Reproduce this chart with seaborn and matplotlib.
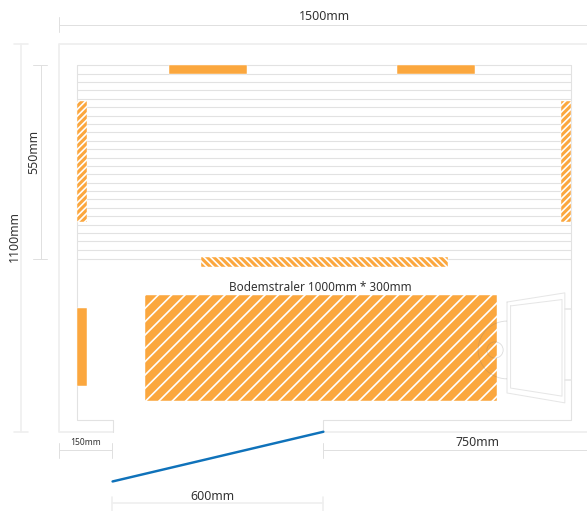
import matplotlib
matplotlib.use("Agg")
import matplotlib.pyplot as plt
from matplotlib.patches import Circle, Arc
import pandas as pd
import seaborn as sns

sns.set_theme(style="white")
plt.rcParams['font.family'] = ['Noto Sans', 'DejaVu Sans']
plt.rcParams['hatch.linewidth'] = 1.5

ORANGE = "#FBA73E"
WALL = "#EFEFEF"
SLAT = "#E2E2E2"
DIM = "#E0E0E0"
DOOR = "#E6E6E6"
BLUE = "#0F72BA"
TEXT = "#333333"

# all lengths in mm
slat_y = [60, 84, 107, 131, 155, 179, 203, 227, 251, 274, 298, 322, 346, 370, 393, 417,
          441, 465, 489, 513, 537, 560, 584, 610]
slat_x = [52, 1452]

heater_left = [312, 958, 52, 1425, 403, 52, 243]
heater_top = [60, 60, 162, 162, 604, 750, 712]
heater_width = [221, 221, 28, 28, 700, 27, 1000]
heater_height = [26, 26, 342, 342, 28, 221, 300]
heater_hatch = [None, None, '////', '////', '\\\\\\\\', None, '//']

inner_wall_x = [[52, 52, 152], [152, 152], [750, 750, 1452, 1452]]
inner_wall_y = [[60, 1068, 1068], [1068, 1100], [1100, 1068, 1068, 60]]
outer_wall_x = [[1500, 0, 0, 152], [750, 1500]]
outer_wall_y = [[0, 0, 1100, 1100], [1100, 1100]]

door_x = [152, 750]
door_y = [1241, 1100]

glass_out_x = [1271, 1435, 1435, 1271, 1271]
glass_out_y = [732, 706, 1018, 990, 732]
glass_in_x = [1281, 1427, 1427, 1281, 1281]
glass_in_y = [743, 725, 999, 976, 743]
stub_x = [[1435, 1452], [1435, 1452]]
stub_y = [[752, 752], [953, 953]]

dim_labels = ["1500mm", "1100mm", "550mm", "150mm", "750mm", "600mm"]
dim_text_x = [752, -128, -73, 75, 1188, 436]
dim_text_y = [-77, 547, 305, 1130, 1130, 1285]
dim_rotation = [0, 90, 90, 0, 0, 0]
dim_size = [11.1, 11.1, 11.1, 7.7, 11.1, 11.1]

thin_x = [[0, 1500], [0, 0], [-52, -52], [-74, -34], [-74, -34],
          [0, 150], [0, 0], [150, 150],
          [750, 1500], [750, 750]]
thin_y = [[-55, -55], [-77, -34], [60, 610], [60, 60], [610, 610],
          [1153, 1153], [1131, 1175], [1131, 1175],
          [1153, 1153], [1131, 1175]]
wide_x = [[-108, -108], [-128, -88], [-128, -88],
          [150, 750], [150, 150], [750, 750]]
wide_y = [[0, 1100], [0, 0], [1100, 1100],
          [1302, 1302], [1285, 1325], [1285, 1325]]


def segs(xs, ys):
    rows = []
    for i, (sx, sy) in enumerate(zip(xs, ys)):
        for a, b in zip(sx, sy):
            rows.append({"seg": i, "x": a, "y": b})
    return pd.DataFrame(rows)


def draw(ax, xs, ys, color, lw, z=1):
    sns.lineplot(data=segs(xs, ys), x="x", y="y", units="seg", estimator=None, sort=False,
                 color=color, linewidth=lw, ax=ax, zorder=z, legend=False, errorbar=None)


fig = plt.figure(figsize=(587 / 80, 511 / 80), dpi=80)
ax = fig.add_axes([0, 0, 1, 1])
ax.set_xlim(-167.4, 1497.9)
ax.set_ylim(1324.8, -124.8)
ax.axis("off")

draw(ax, [slat_x for _ in slat_y], [[v, v] for v in slat_y], SLAT, 1.0)
draw(ax, outer_wall_x, outer_wall_y, WALL, 1.6)
draw(ax, inner_wall_x, inner_wall_y, SLAT, 1.0)
draw(ax, thin_x, thin_y, DIM, 0.9)
draw(ax, wide_x, wide_y, WALL, 1.5)
draw(ax, [glass_out_x, glass_in_x], [glass_out_y, glass_in_y], DOOR, 0.9)
draw(ax, stub_x, stub_y, DOOR, 1.4)

ax.add_patch(Circle((1237, 868), 23, fc="none", ec="#777777", alpha=0.28, lw=0.7, zorder=3))
ax.add_patch(Arc((1271, 868), 164, 164, theta1=90, theta2=270, ec="#777777", alpha=0.28,
                 lw=0.7, zorder=3))

for l, t, w, h, ha in zip(heater_left, heater_top, heater_width, heater_height, heater_hatch):
    ax.bar(l, h, width=w, bottom=t, align="edge", color=ORANGE,
           edgecolor="white", linewidth=0.4, hatch=ha, zorder=2)

draw(ax, [door_x], [door_y], BLUE, 2.2, z=4)

for s, x, y, r, fs in zip(dim_labels, dim_text_x, dim_text_y, dim_rotation, dim_size):
    ax.text(x, y, s, rotation=r, fontsize=fs, color=TEXT, ha="center", va="center", zorder=5)
ax.text(741, 690, "Bodemstraler 1000mm * 300mm", fontsize=10.6, color=TEXT,
        ha="center", va="center", zorder=5)

ax.set_xlabel("")
ax.set_ylabel("")
fig.savefig("out.png", dpi=80, facecolor="white")
